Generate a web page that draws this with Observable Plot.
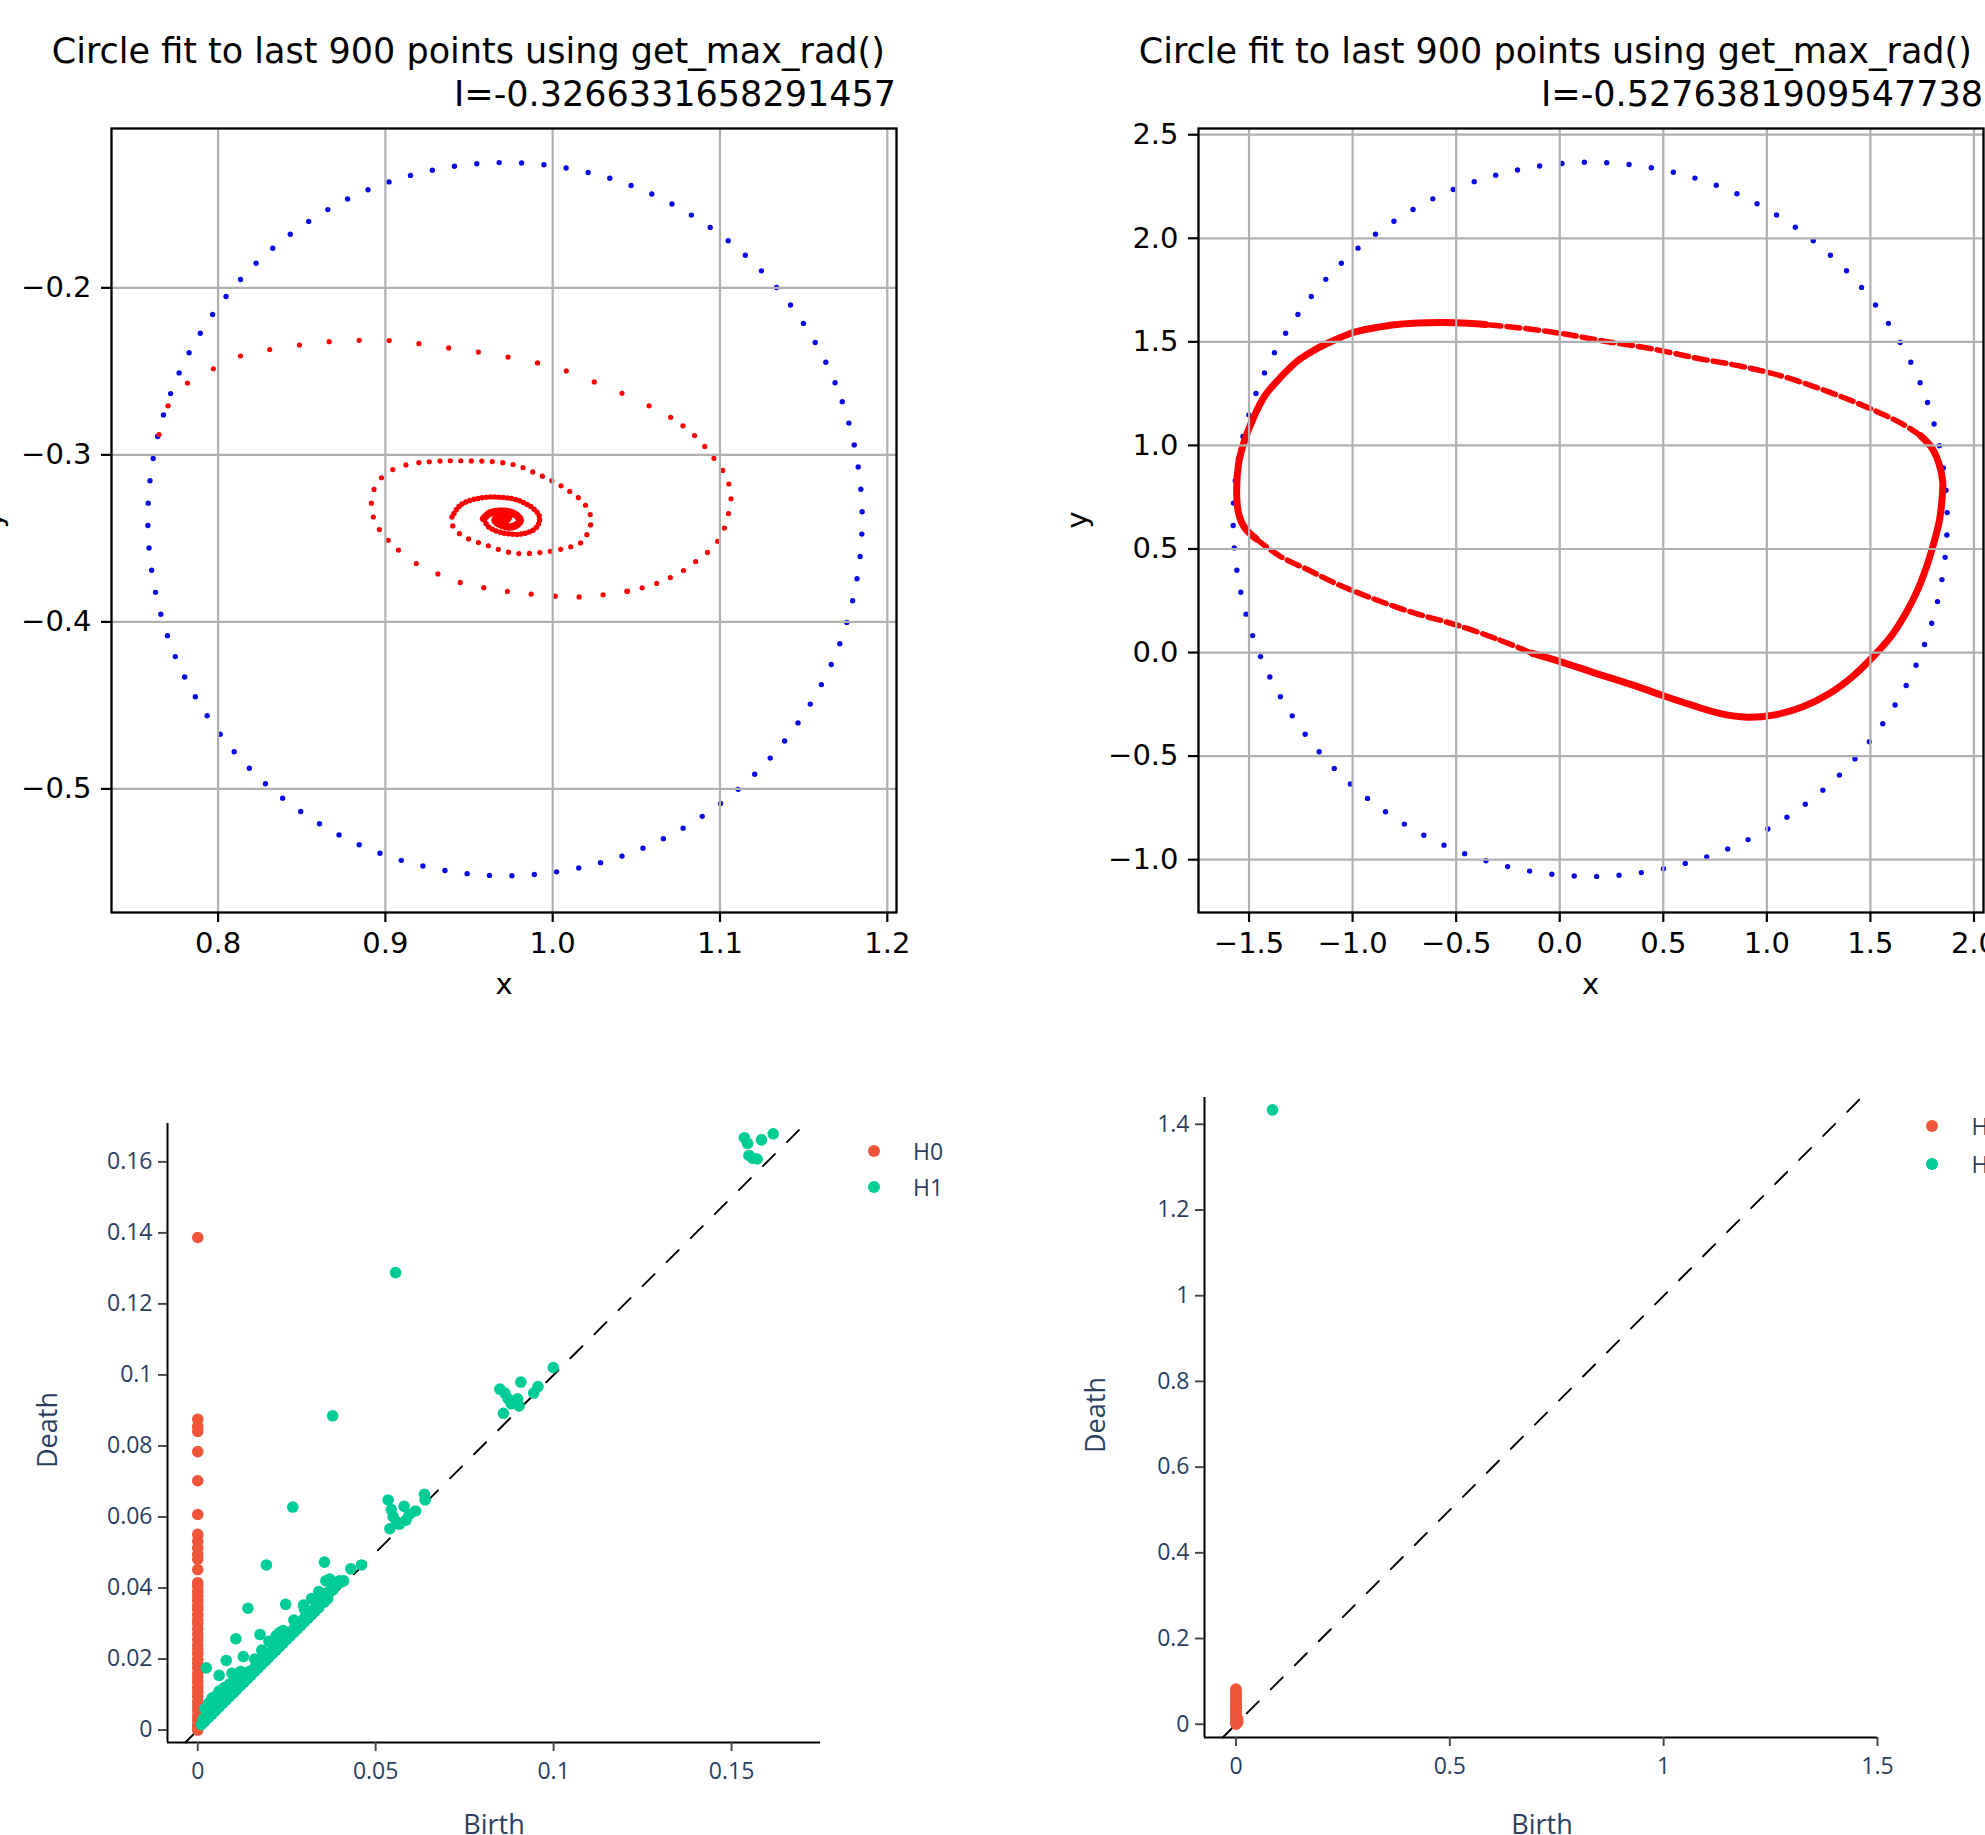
<!DOCTYPE html>
<html>
<head>
<meta charset="utf-8">
<script src="https://cdn.jsdelivr.net/npm/d3@7"></script>
<script src="https://cdn.jsdelivr.net/npm/@observablehq/plot@0.6"></script>
<style>
html, body { margin: 0; padding: 0; background: #fff; overflow: hidden; }
#page { position: relative; width: 1985px; height: 1835px; overflow: hidden; background: #fff; }
.abs { position: absolute; white-space: pre; }
.mpl { font-family: "DejaVu Sans"; color: #000; }
.ply { font-family: "Open Sans"; color: #2a3f5f; }
.panel { position: absolute; }
</style>
</head>
<body>
<div id="page"></div>
<script>
// ================= DATA =================
// --- Top-left (matplotlib) ---
const tlTitle = "Circle fit to last 900 points using get_max_rad() \nI=-0.3266331658291457";
const tlXTicks = [0.8, 0.9, 1.0, 1.1, 1.2];
const tlYTicks = [-0.5, -0.4, -0.3, -0.2];
const tlCircleX = [1.185, 1.1688, 1.1225, 1.0532, 0.9715, 0.8898, 0.8205, 0.7742, 0.758, 0.7742, 0.8205, 0.8898, 0.9715, 1.0532, 1.1225, 1.1688];
const tlCircleY = [-0.3385, -0.2568, -0.1875, -0.1412, -0.125, -0.1412, -0.1875, -0.2568, -0.3385, -0.4202, -0.4895, -0.5358, -0.552, -0.5358, -0.4895, -0.4202];
const tlSpiralX = [0.7647, 0.7703, 0.7811, 0.7888, 0.8, 0.8115, 0.8238, 0.8406, 0.857, 0.8763,
  0.8938, 0.913, 0.933, 0.9533, 0.9736, 0.9935, 1.011, 1.0278, 1.0429, 1.0569,
  1.0705, 1.081, 1.0891, 1.0954, 1.101, 1.1048, 1.1066, 1.1055, 1.1031, 1.0996,
  1.0933, 1.0863, 1.0786, 1.0688, 1.0583, 1.0443, 1.0303, 1.0145, 0.9988, 0.9813,
  0.9673, 0.9498, 0.9375, 0.927, 0.9165, 0.9078, 0.9008, 0.8955, 0.8924, 0.8917,
  0.8938, 0.899, 0.9078, 0.92, 0.935, 0.95, 0.965, 0.978, 0.9896, 1.0,
  1.0085, 1.0164, 1.0211, 1.023, 1.0214, 1.0174, 1.0065, 0.9925, 0.9766, 0.9607,
  0.9467, 0.9405, 0.9398, 0.9447, 0.9547, 0.9667, 0.9786, 0.9885, 0.9921, 0.9905,
  0.9826, 0.9706, 0.9617, 0.9587, 0.9627, 0.9706, 0.9776, 0.9806, 0.9766, 0.9696,
  0.9655, 0.9686, 0.9736, 0.9716];
const tlSpiralY = [-0.2878, -0.2703, -0.2576, -0.2518, -0.2473, -0.2415, -0.2381, -0.2357, -0.2329, -0.2319,
  -0.2312, -0.2326, -0.2353, -0.2381, -0.2415, -0.2456, -0.2507, -0.2576, -0.2638, -0.2703,
  -0.2775, -0.285, -0.2929, -0.3008, -0.3083, -0.3159, -0.3244, -0.333, -0.3426, -0.3502,
  -0.3577, -0.3632, -0.369, -0.3742, -0.3783, -0.3817, -0.3838, -0.3851, -0.3844, -0.3827,
  -0.381, -0.3776, -0.3742, -0.369, -0.3639, -0.357, -0.3502, -0.3433, -0.3358, -0.3279,
  -0.3193, -0.3124, -0.3073, -0.3046, -0.3036, -0.3036, -0.3041, -0.3062, -0.3109, -0.3157,
  -0.3208, -0.3266, -0.3325, -0.3392, -0.3455, -0.3522, -0.3561, -0.3585, -0.3588, -0.3542,
  -0.3488, -0.3432, -0.3372, -0.3302, -0.3262, -0.3253, -0.327, -0.3322, -0.3372, -0.3432,
  -0.3472, -0.3468, -0.3432, -0.3382, -0.3347, -0.3338, -0.3357, -0.3395, -0.3428, -0.3422,
  -0.339, -0.3365, -0.3375, -0.3395];
const tlCenterX = [0.9696];
const tlCenterY = [-0.3385];

// --- Top-right (matplotlib) ---
const trTitle = "Circle fit to last 900 points using get_max_rad() \nI=-0.5276381909547738";
const trXTicks = [-1.5, -1.0, -0.5, 0.0, 0.5, 1.0, 1.5, 2.0];
const trYTicks = [-1.0, -0.5, 0.0, 0.5, 1.0, 1.5, 2.0, 2.5];
const trCircleX = [1.871, 1.7398, 1.3661, 0.8068, 0.147, -0.5128, -1.0721, -1.4458, -1.577, -1.4458, -1.0721, -0.5128, 0.147, 0.8068, 1.3661, 1.7398];
const trCircleY = [0.643, 1.3028, 1.8621, 2.2358, 2.367, 2.2358, 1.8621, 1.3028, 0.643, -0.0168, -0.5761, -0.9498, -1.081, -0.9498, -0.5761, -0.0168];
const trLoopX = [-0.132, 0.01, 0.152, 0.351, 0.493, 0.635, 0.777, 0.904, 1.032, 1.174,
  1.302, 1.415, 1.515, 1.6, 1.671, 1.727, 1.77, 1.804, 1.832, 1.846,
  1.849, 1.832, 1.798, 1.742, 1.656, 1.543, 1.401, 1.231, 1.06, 0.862,
  0.663, 0.436, 0.209, 0.01, -0.189, -0.359, -0.501, -0.643, -0.785, -0.898,
  -0.998, -1.097, -1.182, -1.267, -1.352, -1.423, -1.48, -1.523, -1.551, -1.5596,
  -1.551, -1.523, -1.466, -1.352, -1.21, -1.069, -0.898, -0.7, -0.501, -0.302, -0.132];
const trLoopY = [-0.004, -0.046, -0.093, -0.156, -0.206, -0.253, -0.295, -0.312, -0.302, -0.262,
  -0.198, -0.115, -0.018, 0.079, 0.19, 0.3, 0.411, 0.522, 0.632, 0.743,
  0.826, 0.909, 0.986, 1.047, 1.103, 1.158, 1.219, 1.283, 1.338, 1.385,
  1.421, 1.468, 1.504, 1.54, 1.567, 1.584, 1.592, 1.592, 1.584, 1.567,
  1.545, 1.504, 1.462, 1.407, 1.324, 1.241, 1.13, 1.02, 0.909, 0.77,
  0.674, 0.605, 0.549, 0.466, 0.397, 0.328, 0.259, 0.19, 0.134, 0.065, -0.004];

// --- Bottom-left (plotly persistence diagram) ---
const blXTicks = [0, 0.05, 0.1, 0.15];
const blYTicks = [0, 0.02, 0.04, 0.06, 0.08, 0.1, 0.12, 0.14, 0.16];
const blDiag = [-0.0035, 0.1708];
const blH0Death = [0.1387, 0.0875, 0.0855, 0.0841, 0.0784, 0.0702, 0.0607, 0.0551, 0.0532, 0.0513,
  0.0495, 0.0481, 0.0452, 0.0415, 0.0405, 0.039, 0.0378, 0.0365, 0.035, 0.034,
  0.0325, 0.031, 0.03, 0.0285, 0.027, 0.0255, 0.024, 0.0228, 0.0215, 0.02,
  0.0188, 0.0175, 0.016, 0.0148, 0.0135, 0.012, 0.0108, 0.0095, 0.008, 0.0068,
  0.0055, 0.004, 0.0028, 0.0015, 0.0005, 0];
const blH0Birth = blH0Death.map(() => 0);
const blH1Birth = [0.0556, 0.0379, 0.0267, 0.0193, 0.0356, 0.043, 0.046, 0.036, 0.0371, 0.0398,
  0.038, 0.0141, 0.0247, 0.0297, 0.0107, 0.0175, 0.008, 0.0128, 0.0024, 0.006,
  0.0096, 0.0229,
  0.0535, 0.0544, 0.0549, 0.0558, 0.058, 0.0594, 0.0585, 0.0612, 0.0637, 0.0639, 0.054, 0.0567,
  0.0849, 0.0863, 0.0872, 0.0859, 0.0881, 0.0903, 0.0908, 0.0944, 0.0956, 0.0899, 0.0999,
  0.1536, 0.1545, 0.1549, 0.1572, 0.1584, 0.1617, 0.156,
  0.001, 0.0015, 0.002, 0.0025, 0.003, 0.0035, 0.004, 0.0045, 0.005, 0.0055,
  0.006, 0.0065, 0.007, 0.0075, 0.008, 0.0085, 0.009, 0.0095, 0.01, 0.0105,
  0.011, 0.0115, 0.012, 0.0125, 0.013, 0.0135, 0.014, 0.0145, 0.015, 0.0155,
  0.016, 0.0165, 0.017, 0.0175, 0.018, 0.0185, 0.019, 0.0195, 0.02, 0.021,
  0.021, 0.022, 0.022, 0.023, 0.023, 0.024, 0.024, 0.025, 0.025, 0.026,
  0.026, 0.027, 0.027, 0.028, 0.028, 0.029, 0.029, 0.03, 0.03, 0.031,
  0.031, 0.032, 0.032, 0.033, 0.033, 0.034, 0.034, 0.035, 0.0355, 0.036,
  0.0365, 0.037, 0.038, 0.039, 0.04, 0.041,
  0.002, 0.003, 0.004, 0.005, 0.006, 0.0075, 0.009, 0.0105, 0.012, 0.016,
  0.018, 0.02, 0.022, 0.024, 0.027, 0.03, 0.032, 0.034];
const blH1Death = [0.1288, 0.0885, 0.0628, 0.0465, 0.0473, 0.0454, 0.0465, 0.042, 0.0425, 0.042,
  0.0406, 0.0343, 0.0354, 0.0352, 0.0257, 0.0269, 0.0196, 0.0207, 0.0175, 0.0154,
  0.016, 0.0274,
  0.0648, 0.0621, 0.0601, 0.0587, 0.063, 0.0607, 0.0591, 0.0617, 0.0664, 0.0648, 0.0567, 0.058,
  0.096, 0.0949, 0.0933, 0.0892, 0.0919, 0.0913, 0.098, 0.0949, 0.0967, 0.0933, 0.1021,
  0.1668, 0.1652, 0.1618, 0.1608, 0.1662, 0.1679, 0.161,
  0.0015, 0.003, 0.0025, 0.004, 0.0035, 0.005, 0.0045, 0.006, 0.0055, 0.0075,
  0.0065, 0.008, 0.0075, 0.009, 0.0085, 0.01, 0.0095, 0.0115, 0.0105, 0.012,
  0.0115, 0.0135, 0.0125, 0.014, 0.0135, 0.015, 0.0145, 0.0165, 0.0155, 0.017,
  0.0165, 0.0185, 0.0175, 0.019, 0.0185, 0.02, 0.0195, 0.0215, 0.0205, 0.0225,
  0.0215, 0.0235, 0.0225, 0.0245, 0.0235, 0.0255, 0.0245, 0.0265, 0.0255, 0.0275,
  0.0265, 0.0285, 0.0275, 0.0295, 0.0285, 0.0305, 0.0295, 0.0315, 0.0305, 0.0325,
  0.0315, 0.0335, 0.0325, 0.0345, 0.0335, 0.0355, 0.0345, 0.037, 0.036, 0.0385,
  0.037, 0.039, 0.0395, 0.041, 0.0415, 0.042,
  0.006, 0.0075, 0.009, 0.0095, 0.011, 0.012, 0.013, 0.0145, 0.0165, 0.02,
  0.0225, 0.025, 0.0265, 0.028, 0.031, 0.034, 0.037, 0.039];

// --- Bottom-right (plotly persistence diagram) ---
const brXTicks = [0, 0.5, 1, 1.5];
const brYTicks = [0, 0.2, 0.4, 0.6, 0.8, 1, 1.2, 1.4];
const brDiag = [-0.031, 1.4626];
const brH0Death = [0.082, 0.078, 0.074, 0.07, 0.066, 0.062, 0.058, 0.054, 0.05, 0.046,
  0.042, 0.038, 0.034, 0.03, 0.026, 0.022, 0.018, 0.014, 0.01, 0.006, 0.003, 0, 0.005, 0.012];
const brH0Birth = [0, 0, 0, 0, 0, 0, 0, 0, 0, 0, 0, 0, 0, 0, 0, 0, 0, 0, 0, 0, 0, 0, 0.004, 0.004];
const brH1Birth = [0.0854];
const brH1Death = [1.4337];

const legendLabels = ["H0", "H1"];
const h0Color = "#EF553B", h1Color = "#00CC96";

// ================= HELPERS =================
const page = document.getElementById("page");
const zip = (xs, ys) => xs.map((x, i) => ({x, y: ys[i]}));
const seg = (xs, ys, a, b) => xs.slice(a, b + 1).map((x, i) => ({x, y: ys[a + i]}));
const fmt1 = d3.format(".1f");

function place(node, left, top, width) {
  const div = document.createElement("div");
  div.className = "panel";
  div.style.left = left + "px";
  div.style.top = top + "px";
  div.style.width = width + "px";
  div.appendChild(node);
  page.appendChild(div);
}

function text(str, cls, x, y, size, opts = {}) {
  const d = document.createElement("div");
  d.className = "abs " + cls;
  d.textContent = str;
  d.style.fontSize = size + "px";
  d.style.lineHeight = (opts.lineHeight || size) + "px";
  d.style.zIndex = 5;
  if (opts.align === "right") {
    d.style.left = "0px";
    d.style.width = x + "px";
    d.style.textAlign = "right";
    d.style.top = y + "px";
  } else if (opts.align === "left") {
    d.style.left = x + "px";
    d.style.top = y + "px";
    d.style.transform = "translate(0,-50%)";
  } else {
    d.style.left = x + "px";
    d.style.top = y + "px";
    d.style.transform = "translate(-50%,-50%)" + (opts.rotate ? " rotate(" + opts.rotate + "deg)" : "");
  }
  page.appendChild(d);
  return d;
}

function mplPanel(cfg) {
  const mL = cfg.frameLeft - cfg.left, mT = cfg.frameTop - cfg.top;
  const W = mL + cfg.w + 30, H = mT + cfg.h + 110;
  const grid = {stroke: "#b0b0b0", strokeOpacity: 1, strokeWidth: 2.2};
  const chart = Plot.plot({
    width: W, height: H,
    marginLeft: mL, marginTop: mT, marginRight: 30, marginBottom: 110,
    x: {domain: cfg.xDomain},
    y: {domain: cfg.yDomain},
    style: {fontFamily: "DejaVu Sans", fontSize: "29px", color: "black", background: "none", overflow: "visible"},
    marks: [
      ...cfg.marks,
      Plot.gridX(cfg.xTicks, grid),
      Plot.gridY(cfg.yTicks, grid),
      Plot.axisX(cfg.xTicks, {tickSize: 10, tickPadding: 10, tickFormat: fmt1, strokeWidth: 2.2, fontSize: 29, label: null}),
      Plot.axisY(cfg.yTicks, {tickSize: 10, tickPadding: 10, tickFormat: fmt1, strokeWidth: 2.2, fontSize: 29, label: null}),
      Plot.frame({stroke: "black", strokeWidth: 2.3})
    ]
  });
  place(chart, cfg.left, cfg.top, W);
}

function plyPanel(cfg) {
  const mL = cfg.frameLeft - cfg.left, mT = cfg.frameTop - cfg.top;
  const W = mL + cfg.w + 20, H = mT + cfg.h + 100;
  const axisOpts = {stroke: "#444", fill: "#2a3f5f", strokeWidth: 1.9, fontSize: 23, label: null, tickFormat: d => String(d)};
  const chart = Plot.plot({
    width: W, height: H,
    marginLeft: mL, marginTop: mT, marginRight: 20, marginBottom: 100,
    x: {domain: cfg.xDomain},
    y: {domain: cfg.yDomain},
    style: {fontFamily: "Open Sans", fontSize: "23px", background: "none", overflow: "visible"},
    marks: [
      Plot.line(zip(cfg.diag, cfg.diag), {x: "x", y: "y", stroke: "black", strokeWidth: 1.9, strokeDasharray: "17 17"}),
      Plot.dot(zip(cfg.h0x, cfg.h0y), {x: "x", y: "y", r: 5.8, fill: h0Color}),
      Plot.dot(zip(cfg.h1x, cfg.h1y), {x: "x", y: "y", r: 5.8, fill: h1Color}),
      Plot.ruleX([cfg.xDomain[0]], {stroke: "black", strokeWidth: 2}),
      Plot.ruleY([cfg.yDomain[0]], {stroke: "black", strokeWidth: 2}),
      Plot.axisX(cfg.xTicks, {...axisOpts, tickSize: 9, tickPadding: 11}),
      Plot.axisY(cfg.yTicks, {...axisOpts, tickSize: 9, tickPadding: 6})
    ]
  });
  place(chart, cfg.left, cfg.top, W);
}

function legend(x, y0, gap) {
  legendLabels.forEach((lab, i) => {
    const y = y0 + i * gap;
    const dot = document.createElement("div");
    dot.style.cssText = `position:absolute;left:${x - 6}px;top:${y - 6}px;width:12px;height:12px;border-radius:50%;background:${i === 0 ? h0Color : h1Color};z-index:5`;
    page.appendChild(dot);
    text(lab, "ply", x + 39.5, y, 23, {align: "left"});
  });
}

// ================= TOP-LEFT =================
const dotLine = (data, gap, extra = {}) => Plot.line(data, {x: "x", y: "y", curve: "catmull-rom", stroke: "red", strokeWidth: 5.2, strokeLinecap: "round", strokeDasharray: "0 " + gap, ...extra});
mplPanel({
  left: 0, top: 108, frameLeft: 111, frameTop: 128, w: 785, h: 784,
  xDomain: [0.7363, 1.2055], yDomain: [-0.574, -0.1046],
  xTicks: tlXTicks, yTicks: tlYTicks,
  marks: [
    Plot.line(zip(tlCircleX, tlCircleY), {x: "x", y: "y", curve: "catmull-rom-closed", stroke: "#0a0ae6", strokeWidth: 5.4, strokeLinecap: "round", strokeDasharray: "0 22.44"}),
    dotLine(seg(tlSpiralX, tlSpiralY, 0, 20), 30),
    dotLine(seg(tlSpiralX, tlSpiralY, 20, 35), 15),
    dotLine(seg(tlSpiralX, tlSpiralY, 35, 45), 24),
    dotLine(seg(tlSpiralX, tlSpiralY, 45, 53), 14),
    dotLine(seg(tlSpiralX, tlSpiralY, 53, 72), 10.5),
    dotLine(seg(tlSpiralX, tlSpiralY, 72, 83), 4.2, {strokeWidth: 5.5}),
    Plot.line(seg(tlSpiralX, tlSpiralY, 83, 93), {x: "x", y: "y", curve: "catmull-rom", stroke: "red", strokeWidth: 7.5, strokeLinecap: "round"}),
    Plot.dot(zip(tlCenterX, tlCenterY), {x: "x", y: "y", r: 7.5, fill: "red"})
  ]
});

// ================= TOP-RIGHT =================
const redSolid = {x: "x", y: "y", curve: "catmull-rom", stroke: "red", strokeWidth: 7, strokeLinecap: "round"};
const redDash = {x: "x", y: "y", curve: "catmull-rom", stroke: "red", strokeWidth: 5.5, strokeDasharray: "13 6"};
mplPanel({
  left: 1080, top: 108, frameLeft: 1198, frameTop: 128, w: 785, h: 784,
  xDomain: [-1.744, 2.046], yDomain: [-1.255, 2.53],
  xTicks: trXTicks, yTicks: trYTicks,
  marks: [
    Plot.line(zip(trCircleX, trCircleY), {x: "x", y: "y", curve: "catmull-rom-closed", stroke: "#0a0ae6", strokeWidth: 5.4, strokeLinecap: "round", strokeDasharray: "0 22.44"}),
    Plot.line(seg(trLoopX, trLoopY, 0, 23), redSolid),
    Plot.line(seg(trLoopX, trLoopY, 23, 35), redDash),
    Plot.line(seg(trLoopX, trLoopY, 35, 52), redSolid),
    Plot.line(seg(trLoopX, trLoopY, 52, 60), redDash)
  ]
});

// ================= BOTTOM-LEFT =================
plyPanel({
  left: 0, top: 1102.5, frameLeft: 167, frameTop: 1122.5, w: 653, h: 619,
  xDomain: [-0.0085, 0.175], yDomain: [-0.0035, 0.1708],
  xTicks: blXTicks, yTicks: blYTicks, diag: blDiag,
  h0x: blH0Birth, h0y: blH0Death, h1x: blH1Birth, h1y: blH1Death
});

// ================= BOTTOM-RIGHT =================
plyPanel({
  left: 1080, top: 1077, frameLeft: 1204, frameTop: 1097, w: 673, h: 640,
  xDomain: [-0.0736, 1.5], yDomain: [-0.031, 1.4626],
  xTicks: brXTicks, yTicks: brYTicks, diag: brDiag,
  h0x: brH0Birth, h0y: brH0Death, h1x: brH1Birth, h1y: brH1Death
});

// ================= TEXT =================
text(tlTitle, "mpl", 896, 29.6, 35, {align: "right", lineHeight: 43.5});
text(trTitle, "mpl", 1983, 29.6, 35, {align: "right", lineHeight: 43.5});
text("x", "mpl", 504, 984, 29, {lineHeight: 34});
text("x", "mpl", 1590.5, 984, 29, {lineHeight: 34});
text("y", "mpl", -8, 520, 29, {rotate: -90, lineHeight: 34});
text("y", "mpl", 1077, 520, 29, {rotate: -90, lineHeight: 34});

text("Death", "ply", 46, 1430, 27, {rotate: -90});
text("Death", "ply", 1094, 1415, 27, {rotate: -90});
text("Birth", "ply", 494, 1823, 27);
text("Birth", "ply", 1542, 1823, 27);
legend(873.5, 1150.5, 36.5);
legend(1932, 1126.3, 38);
</script>
</body>
</html>
